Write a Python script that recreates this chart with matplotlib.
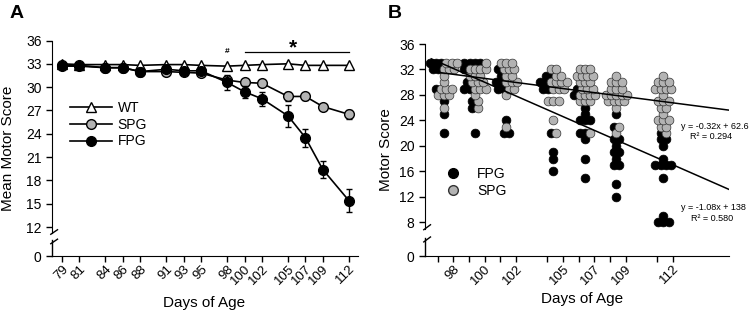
import numpy as np
import matplotlib
matplotlib.use("Agg")
import matplotlib.pyplot as plt
from matplotlib.lines import Line2D

plt.rcParams["font.family"] = ["Liberation Sans", "DejaVu Sans"]

# ---- Panel A: mean motor score by day ----
days_a = [79, 81, 84, 86, 88, 91, 93, 95, 98, 100, 102, 105, 107, 109, 112]
wt_mean = [33.0, 32.9, 32.9, 32.9, 32.8, 32.9, 32.9, 32.8, 32.7, 32.8, 32.9, 33.0, 32.8, 32.8, 32.8]
spg_mean = [32.8, 32.8, 32.5, 32.5, 32.0, 32.0, 31.9, 31.8, 30.9, 30.6, 30.5, 28.8, 28.8, 27.5, 26.5]
spg_err = [0.2, 0.2, 0.2, 0.2, 0.2, 0.2, 0.2, 0.2, 0.5, 0.4, 0.4, 0.55, 0.45, 0.3, 0.6]
fpg_mean = [32.7, 32.7, 32.5, 32.5, 32.0, 32.3, 32.1, 32.1, 30.6, 29.4, 28.5, 26.3, 23.5, 19.4, 15.4]
fpg_err = [0.2, 0.2, 0.2, 0.2, 0.2, 0.2, 0.3, 0.3, 0.95, 0.75, 0.9, 1.45, 1.15, 1.1, 1.5]

# ---- Panel B: individual scores ----
days_b = [98, 100, 102, 105, 107, 109, 112]
fpg_scores = [
    [33, 33, 33, 32, 32, 29, 27, 25, 22],
    [33, 33, 33, 33, 32, 30, 29, 29, 27, 26, 22],
    [32, 31, 30, 30, 29, 29, 24, 22, 22],
    [31, 31, 30, 30, 29, 29, 22, 19, 18, 16],
    [29, 28, 26, 25, 24, 24, 24, 22, 22, 21, 18, 15],
    [25, 23, 21, 21, 20, 19, 19, 18, 17, 17, 14, 12],
    [22, 21, 21, 20, 18, 17, 17, 17, 17, 15, 9, 8, 8, 8],
]
spg_scores = [
    [33, 33, 33, 32, 32, 32, 31, 30, 29, 29, 29, 28, 28, 28, 26],
    [33, 32, 32, 32, 32, 31, 31, 31, 30, 30, 30, 29, 29, 29, 28, 27, 26],
    [33, 33, 33, 32, 32, 32, 31, 31, 30, 30, 30, 29, 29, 28, 23],
    [32, 32, 31, 31, 30, 30, 30, 30, 29, 29, 29, 27, 27, 27, 24, 22],
    [32, 32, 32, 31, 31, 31, 31, 30, 30, 30, 29, 29, 29, 28, 28, 28, 28, 27, 27, 27, 22],
    [31, 30, 30, 30, 29, 29, 29, 28, 28, 28, 28, 28, 27, 27, 27, 27, 26, 23, 22],
    [31, 30, 30, 30, 29, 29, 29, 29, 28, 27, 27, 27, 26, 26, 25, 24, 24, 24, 23, 23, 22],
]
spg_fit = (-0.32, 62.6)
fpg_fit = (-1.08, 138)

GREY = "#b3b3b3"


def add_break(ax, y_hi, y_lo, d=0.45):
    """Broken y axis: spine gap between y_lo and y_hi with slashes."""
    bottom, top = ax.get_ylim()
    ax.spines["left"].set_bounds(y_hi, top)
    tr = ax.get_yaxis_transform()
    kw = dict(transform=tr, color="k", lw=1.0, clip_on=False)
    ax.plot([0, 0], [bottom, y_lo], **kw)
    ax.plot([-0.004, 0.018], [y_hi - d * 0.3, y_hi + d], **kw)
    ax.plot([-0.004, 0.018], [y_lo - d, y_lo + d * 0.3], **kw)


def swarm(center, fpg, spg, step):
    """Place tied scores side by side, FPG on the left of each row."""
    fx, fy, sx, sy = [], [], [], []
    for v in sorted(set(fpg) | set(spg)):
        nf, ns = fpg.count(v), spg.count(v)
        n = nf + ns
        offs = (np.arange(n) - (n - 1) / 2) * step
        fx += list(center + offs[:nf]); fy += [v] * nf
        sx += list(center + offs[nf:]); sy += [v] * ns
    return fx, fy, sx, sy


fig = plt.figure(figsize=(7.55, 3.10), dpi=100)
axA = fig.add_axes([52 / 755, 54 / 310, 306 / 755, 215.5 / 310])
axB = fig.add_axes([425 / 755, 54 / 310, 304 / 755, 212 / 310])

for ax in (axA, axB):
    ax.spines["top"].set_visible(False)
    ax.spines["right"].set_visible(False)
    ax.tick_params(direction="out", length=4, width=1, labelsize=10)
    ax.tick_params(axis="x", which="both", length=4, width=1, labelsize=9.5, pad=1)

# Panel A
axA.plot(days_a, wt_mean, "-^", color="k", mfc="white", mec="k", ms=7.5, lw=1.2, zorder=2)
axA.errorbar(days_a, spg_mean, yerr=spg_err, fmt="-o", color="k", mfc=GREY, mec="k",
             ms=7, lw=1.2, capsize=2.5, elinewidth=1, zorder=3)
axA.errorbar(days_a, fpg_mean, yerr=fpg_err, fmt="-o", color="k", mfc="k", mec="k",
             ms=7, lw=1.2, capsize=2.5, elinewidth=1, zorder=4)
axA.set_xlim(77.85, 113.05)
axA.set_ylim(8.27, 36)
axA.set_yticks([8.27, 12, 15, 18, 21, 24, 27, 30, 33, 36])
axA.set_yticklabels(["0", "12", "15", "18", "21", "24", "27", "30", "33", "36"])
axA.set_xticks(days_a)
axA.set_xticklabels([str(d) for d in days_a], rotation=45, ha="right", rotation_mode="anchor")
add_break(axA, 11.2, 10.3)

axA.text(98, 34.6, "#", fontsize=6, fontweight="bold", ha="center", va="center")
axA.plot([100, 112], [34.5, 34.5], color="k", lw=0.9)
axA.text(105.6, 35.0, "*", fontsize=15, fontweight="bold", ha="center", va="center")

handles = [
    Line2D([], [], color="k", marker="^", mfc="white", mec="k", ms=7.5, lw=1.2),
    Line2D([], [], color="k", marker="o", mfc=GREY, mec="k", ms=7, lw=1.2),
    Line2D([], [], color="k", marker="o", mfc="k", mec="k", ms=7, lw=1.2),
]
axA.legend(handles, ["WT", "SPG", "FPG"], loc="upper left", bbox_to_anchor=(0.06, 0.72),
           frameon=False, fontsize=10, handlelength=3.0, labelspacing=0.2,
           handletextpad=0.4, borderaxespad=0, borderpad=0)
axA.set_xlabel("Days of Age", fontsize=11)
axA.xaxis.set_label_coords(0.497, -0.186)
axA.set_ylabel("Mean Motor Score", fontsize=11)
axA.yaxis.set_label_coords(-0.121, 0.5)

# Panel B
axB.set_xlim(96.2, 115.6)
axB.set_ylim(2.69, 36)
for d, f, s in zip(days_b, fpg_scores, spg_scores):
    fx, fy, sx, sy = swarm(d - 0.6, f, s, 0.34)
    axB.scatter(fx, fy, s=40, c="k", edgecolors="k", linewidths=0.5, zorder=3)
    axB.scatter(sx, sy, s=40, c=GREY, edgecolors="#333333", linewidths=0.5, zorder=4)

xfit = np.array([96.6, axB.get_xlim()[1]])
axB.plot(xfit, spg_fit[0] * xfit + spg_fit[1], color="k", lw=1.1, zorder=5)
axB.plot(xfit, fpg_fit[0] * xfit + fpg_fit[1], color="k", lw=1.1, zorder=5)

axB.set_yticks([2.69, 8, 12, 16, 20, 24, 28, 32, 36])
axB.set_yticklabels(["0", "8", "12", "16", "20", "24", "28", "32", "36"])
axB.set_xticks(days_b)
axB.set_xticks([d - 1 for d in days_b], minor=True)
axB.set_xticklabels([str(d) for d in days_b], rotation=45, ha="right", rotation_mode="anchor")
add_break(axB, 7.0, 5.5, d=0.6)

axB.text(0.954, 0.613, "y = -0.32x + 62.6", transform=axB.transAxes, fontsize=6.5, ha="center", va="center")
axB.text(0.94, 0.566, "R² = 0.294", transform=axB.transAxes, fontsize=6.5, ha="center", va="center")
axB.text(0.95, 0.231, "y = -1.08x + 138", transform=axB.transAxes, fontsize=6.5, ha="center", va="center")
axB.text(0.945, 0.179, "R² = 0.580", transform=axB.transAxes, fontsize=6.5, ha="center", va="center")

bh = [
    Line2D([], [], ls="none", marker="o", mfc="k", mec="k", ms=7),
    Line2D([], [], ls="none", marker="o", mfc=GREY, mec="#333333", ms=7),
]
axB.legend(bh, ["FPG", "SPG"], loc="upper left", bbox_to_anchor=(0.07, 0.42),
           frameon=False, fontsize=10, handlelength=1.0, labelspacing=0.2,
           handletextpad=1.2, borderaxespad=0, borderpad=0)
axB.set_xlabel("Days of Age", fontsize=11)
axB.xaxis.set_label_coords(0.516, -0.17)
axB.set_ylabel("Motor Score", fontsize=11)
axB.yaxis.set_label_coords(-0.105, 0.5)

fig.text(17 / 755, 1 - 14 / 310, "A", fontsize=14, fontweight="bold", ha="center", va="center")
fig.text(395 / 755, 1 - 14 / 310, "B", fontsize=14, fontweight="bold", ha="center", va="center")

fig.savefig("out.png", dpi=100)
